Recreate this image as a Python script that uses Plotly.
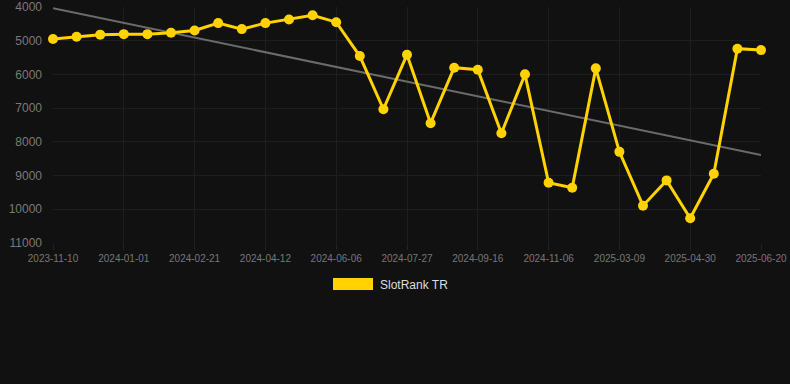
import numpy as np
import plotly.graph_objects as go

dates = [
    "2023-11-10", "2023-11-27", "2023-12-14", "2024-01-01", "2024-01-18", "2024-02-04",
    "2024-02-21", "2024-03-09", "2024-03-26", "2024-04-12", "2024-04-30", "2024-05-18",
    "2024-06-06", "2024-06-23", "2024-07-10", "2024-07-27", "2024-08-13", "2024-08-30",
    "2024-09-16", "2024-10-03", "2024-10-20", "2024-11-06", "2024-11-23", "2025-02-20",
    "2025-03-09", "2025-03-26", "2025-04-13", "2025-04-30", "2025-05-17", "2025-06-03",
    "2025-06-20",
]
ranks = [
    4950, 4880, 4820, 4805, 4805, 4765, 4695, 4478, 4656, 4478, 4370, 4243,
    4450, 5455, 7033, 5415, 7447, 5800, 5860, 7743, 5997, 9213, 9361, 5820,
    8296, 9893, 9143, 10266, 8947, 5237, 5278,
]
tick_labels = dates[::3]
y_ticks = [4000, 5000, 6000, 7000, 8000, 9000, 10000, 11000]
series_name = "SlotRank TR"

idx = np.arange(len(ranks))
slope, intercept = np.polyfit(idx, ranks, 1)
trend = slope * idx + intercept

fig = go.Figure()
fig.add_trace(go.Scatter(
    x=dates, y=trend, mode="lines",
    line=dict(color="#6b6b6b", width=2), showlegend=False, hoverinfo="skip",
))
fig.add_trace(go.Scatter(
    x=dates, y=ranks, mode="lines+markers", name=series_name,
    line=dict(color="#FFD200", width=3),
    marker=dict(color="#FFD200", size=10),
    cliponaxis=False, showlegend=False,
))

L, R, T, B = 53, 29, 7, 141
plot_w = 790 - L - R
plot_h = 384 - T - B

def px_x(p):
    return (p - L) / plot_w

def px_y(p):
    return (384 - B - p) / plot_h

fig.add_shape(type="rect", xref="paper", yref="paper",
              x0=px_x(333), x1=px_x(373), y0=px_y(290), y1=px_y(278),
              fillcolor="#FFD200", line=dict(width=0))
fig.add_annotation(xref="paper", yref="paper", x=px_x(378), y=px_y(285),
                   text=series_name, showarrow=False, xanchor="left", yanchor="middle",
                   font=dict(size=12, color="#dddddd", family="Liberation Sans, Arial, sans-serif"))

fig.update_layout(
    width=790, height=384,
    margin=dict(l=L, r=R, t=T, b=B, autoexpand=False),
    paper_bgcolor="#111111", plot_bgcolor="#111111",
    font=dict(family="Liberation Sans, Arial, sans-serif"),
    showlegend=False,
)
fig.update_xaxes(
    type="category", categoryorder="array", categoryarray=dates,
    range=[0, len(dates) - 1],
    tickmode="array", tickvals=tick_labels, ticktext=tick_labels,
    showgrid=True, gridcolor="#1e1e1e", gridwidth=1,
    tickfont=dict(size=10, color="#777777"),
    ticks="outside", ticklen=6, tickcolor="#222222",
    showline=False, zeroline=False,
)
fig.update_yaxes(
    range=[11000, 4000], tickmode="array", tickvals=y_ticks,
    ticktext=[str(v) for v in y_ticks],
    showgrid=True, gridcolor="#1e1e1e", gridwidth=1,
    tickfont=dict(size=12, color="#7a7a7a"),
    ticks="", ticklabelstandoff=10,
    zeroline=False, showline=False,
)

fig.write_html(
    "out.html",
    config={"displayModeBar": False},
    post_script="document.body.style.margin='0';document.body.style.background='#111111';",
)
